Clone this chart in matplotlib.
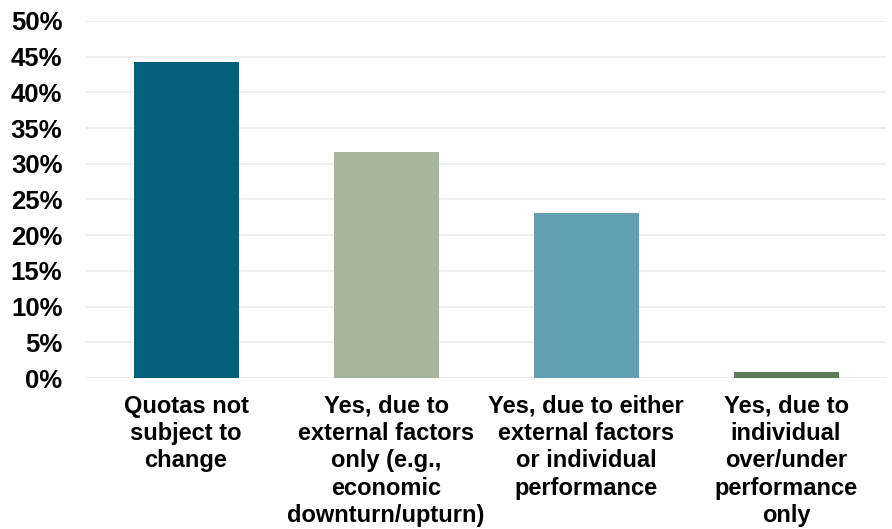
import matplotlib
matplotlib.use("Agg")
import matplotlib.pyplot as plt
from matplotlib.ticker import FuncFormatter, MultipleLocator

categories = [
    "Quotas not\nsubject to\nchange",
    "Yes, due to\nexternal factors\nonly (e.g.,\neconomic\ndownturn/upturn)",
    "Yes, due to either\nexternal factors\nor individual\nperformance",
    "Yes, due to\nindividual\nover/under\nperformance\nonly",
]
values = [0.443, 0.316, 0.231, 0.008]
colors = ["#05607E", "#A5B69A", "#5FA0B1", "#5E7C56"]

plt.rcParams['font.family'] = ['Liberation Sans', 'DejaVu Sans']

fig = plt.figure(figsize=(8.92, 5.29), dpi=100)
ax = fig.add_axes([86/892, 1-378/529, 800/892, 357/529])

x = list(range(len(categories)))
ax.bar(x, values, width=0.525, color=colors, zorder=3)

ax.set_ylim(0, 0.5)
ax.set_xlim(-0.5, len(categories) - 0.5)
ax.yaxis.set_major_locator(MultipleLocator(0.05))
ax.yaxis.set_major_formatter(FuncFormatter(lambda v, p: f"{round(v*100)}%"))
ax.grid(axis='y', color='#EBEBEB', linewidth=1.2, zorder=0)
for s in ax.spines.values():
    s.set_visible(False)
ax.set_xticks(x)
ax.set_xticklabels(categories, fontsize=17, fontweight='bold', linespacing=1.24)
ax.tick_params(axis='x', length=0, pad=12)
ax.tick_params(axis='y', length=0, pad=17, labelsize=18.5)
for t in ax.get_yticklabels():
    t.set_fontweight('bold')

fig.savefig("out.png", dpi=100)
